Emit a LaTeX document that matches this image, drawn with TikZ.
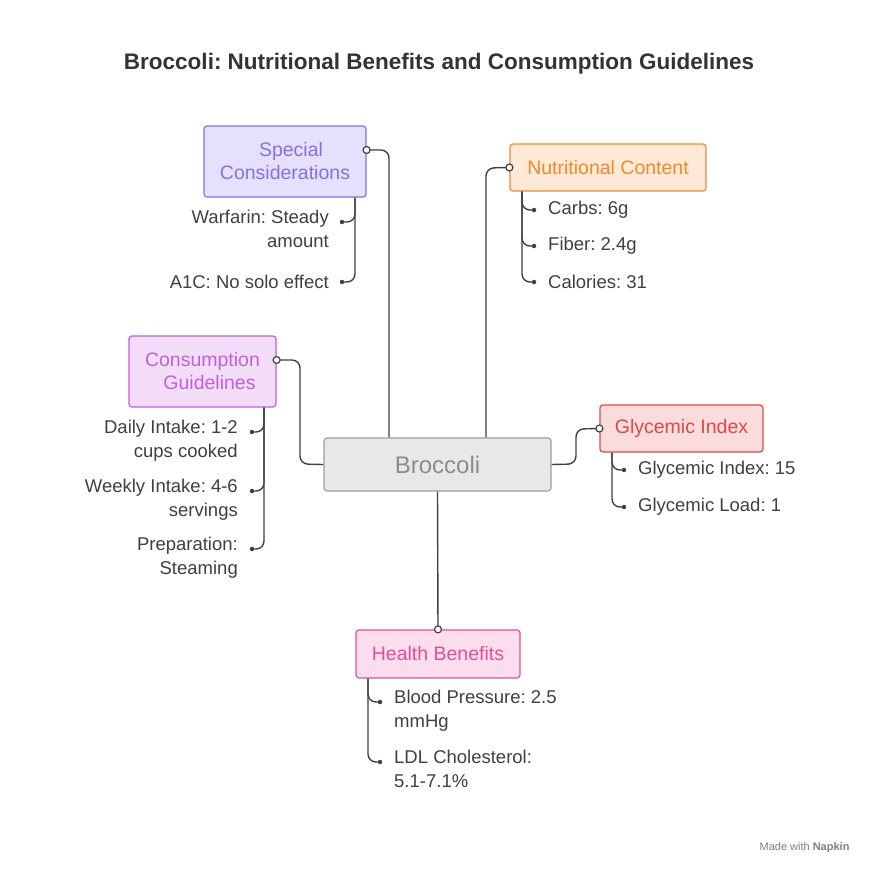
\documentclass[tikz,border=0pt]{standalone}
\usepackage{fontspec}
\setmainfont{Liberation Sans}
\begin{document}
\frenchspacing
\begin{tikzpicture}[x=1pt,y=-1pt,
 box/.style={draw,rounded corners=3pt,line width=1.2pt,align=center,font=\fontsize{19.5}{23}\selectfont,inner sep=0pt},
 item/.style={font=\fontsize{18.5}{24}\selectfont,text=black!75,inner sep=0pt},
 con/.style={draw=black!75,line width=1.4pt,rounded corners=8pt},
 dot/.style={circle,fill=black!75,inner sep=0pt,minimum size=4.5pt},
 odot/.style={circle,draw=black!75,fill=white,line width=1.2pt,inner sep=0pt,minimum size=7pt}]
\useasboundingbox (0,0) rectangle (876,876);
\fill[white] (0,0) rectangle (876,876);
\node[font=\bfseries\fontsize{22.5}{26}\selectfont,text=black!80] (title) at (439,64) {Broccoli: Nutritional Benefits and Consumption Guidelines};
\definecolor{spf}{HTML}{E5E0FB}\definecolor{spd}{HTML}{8B6FE0}
\definecolor{nuf}{HTML}{FDE9D6}\definecolor{nud}{HTML}{F08A30}
\definecolor{cof}{HTML}{F3DDF8}\definecolor{cod}{HTML}{C060E0}
\definecolor{glf}{HTML}{FADCDC}\definecolor{gld}{HTML}{E04848}
\definecolor{hef}{HTML}{FBDDED}\definecolor{hed}{HTML}{E0509A}
\node[box,fill=black!9,draw=black!38,text=black!45,minimum width=227pt,minimum height=53pt,font=\fontsize{24}{28}\selectfont] (b) at (437.5,464.5) {Broccoli};
\node[box,fill=spf,draw=spd,text=spd,minimum width=162pt,minimum height=71pt] (sp) at (285,161.5) {\hspace*{12pt}Special\\ Considerations};
\node[box,fill=nuf,draw=nud,text=nud,minimum width=196pt,minimum height=47pt] (nu) at (608,167.5) {Nutritional Content};
\node[box,fill=cof,draw=cod,text=cod,minimum width=147pt,minimum height=71pt] (co) at (202.5,371.5) {Consumption\\ \hspace*{14pt}Guidelines};
\node[box,fill=glf,draw=gld,text=gld,minimum width=163pt,minimum height=47pt] (gl) at (681.5,428.5) {Glycemic Index};
\node[box,fill=hef,draw=hed,text=hed,minimum width=164pt,minimum height=48pt] (he) at (438,654) {Health Benefits};
\coordinate (spc) at (sp.east|-0,150); \coordinate (nuc) at (nu.west);
\coordinate (coc) at (co.east|-0,360); \coordinate (glc) at (gl.west);
\draw[con] (b.north-|389,0) -- (389,150) -- (spc);
\draw[con] (b.north-|486,0) -- (486,168) -- (nuc);
\draw[con] (b.west) -- (300,464) -- (300,360) -- (coc);
\draw[con] (b.east) -- (576,464) -- (576,429) -- (glc);
\draw[con] (b.south) -- (he.north);
\node[odot] at (spc) {}; \node[odot] at (nuc) {}; \node[odot] at (coc) {}; \node[odot] at (glc) {}; \node[odot] at (he.north) {};
\coordinate (s1) at (342,222); \coordinate (s2) at (342,282);
\draw[con] (sp.south-|355,0) -- (355,222) -- (s1);
\draw[con] (sp.south-|355,0) -- (355,282) -- (s2);
\node[dot] at (s1){}; \node[dot] at (s2){};
\node[item,anchor=north east,align=right] (s1t) at (329,210) {Warfarin: Steady\\amount};
\node[item,anchor=east] (s2t) at (329,282) {A1C: No solo effect};
\foreach \y/\n/\t in {210/n1/Carbs: 6g,246/n2/Fiber: 2.4g,282/n3/Calories: 31}{
 \coordinate (\n) at (534,\y);
 \draw[con] (nu.south-|522,0) -- (522,\y) -- (\n);
 \node[dot] at (\n){};
 \node[item,anchor=west] (\n t) at (548,\y) {\t};}
\foreach \y/\n/\a/\bb in {432/c1/Daily Intake: 1-2/cups cooked,491/c2/Weekly Intake: 4-6/servings,549/c3/Preparation:/Steaming}{
 \coordinate (\n) at (252,\y);
 \draw[con] (co.south-|264,0) -- (264,\y) -- (\n);
 \node[dot] at (\n){};
 \node[item,anchor=north east,align=right] (\n t) at (238,\y-12) {\a\\\bb};}
\foreach \y/\n/\t in {470/g1/Glycemic Index: 15,507/g2/Glycemic Load: 1}{
 \coordinate (\n) at (624,\y);
 \draw[con] (gl.south-|612,0) -- (612,\y) -- (\n);
 \node[dot] at (\n){};
 \node[item,anchor=west] (\n t) at (638,\y) {\t};}
\foreach \y/\n/\a/\bb in {702/h1/Blood Pressure: 2.5/mmHg,762/h2/LDL Cholesterol:/5.1-7.1\%}{
 \coordinate (\n) at (380,\y);
 \draw[con] (he.south-|368,0) -- (368,\y) -- (\n);
 \node[dot] at (\n){};
 \node[item,anchor=north west,align=left] (\n t) at (394,\y-12) {\a\\\bb};}
\node[font=\fontsize{11}{13}\selectfont,text=black!50,anchor=east] (wm) at (853,848) {Made with \textbf{Napkin}};
\end{tikzpicture}
\end{document}
